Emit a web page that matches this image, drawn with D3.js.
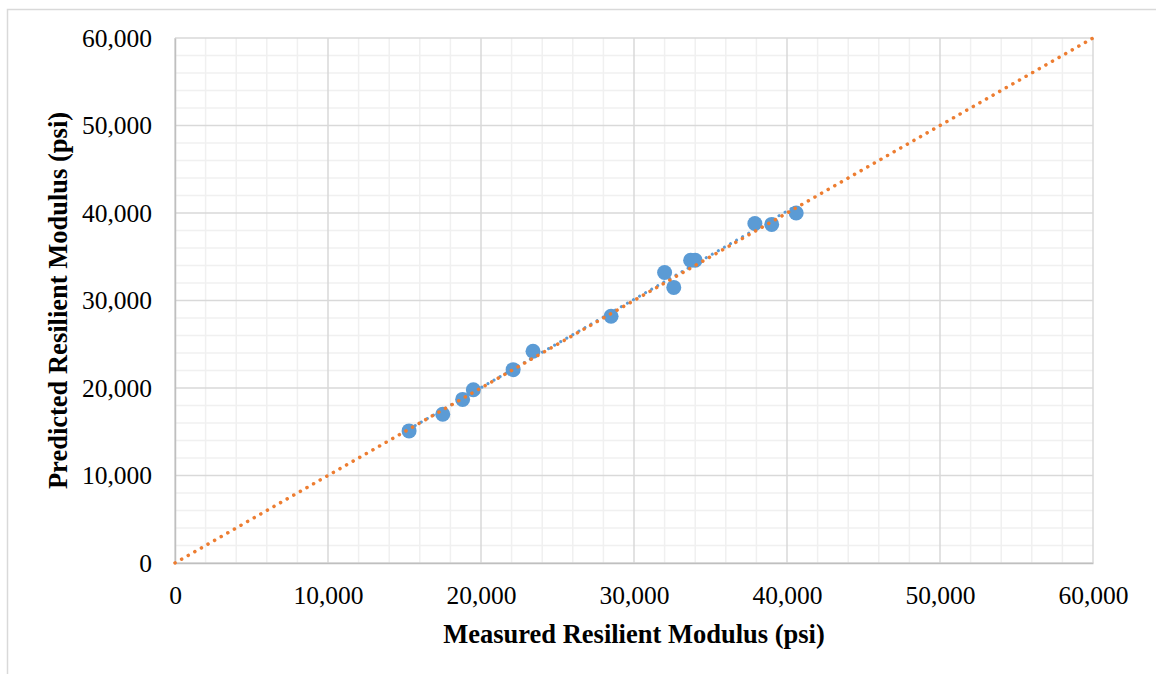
<!DOCTYPE html>
<html>
<head>
<meta charset="utf-8">
<script src="https://cdn.jsdelivr.net/npm/d3@7"></script>
<style>
  body { margin: 0; background: #fff; }
  svg text { font-family: "Liberation Serif", "Times New Roman", serif; fill: #000; }
</style>
</head>
<body>
<div id="chart"></div>
<script>
// measured vs predicted resilient modulus (psi)
var measured  = [15300, 17500, 18800, 19500, 22100, 23400, 28500, 32000, 32600, 33700, 34000, 37900, 39000, 40600];
var predicted = [15100, 17000, 18700, 19800, 22100, 24200, 28200, 33200, 31500, 34600, 34600, 38800, 38700, 40000];
var majorTicks = [0, 10000, 20000, 30000, 40000, 50000, 60000];
var lineOfEquality = [0, 60000];

var width = 1156, height = 674;
var margin = {left: 175, right: 63, top: 38, bottom: 111};

var svg = d3.select('#chart')
    .append('svg')
    .attr("width", width)
    .attr("height", height);

// outer chart border (runs off the right and bottom edges)
svg.append('rect')
    .attr("x", 7.5).attr("y", 9.5)
    .attr("width", width).attr("height", height)
    .attr("fill", "none")
    .attr("stroke", "#d9d9d9")
    .attr("stroke-width", 1.5);

var x = d3.scaleLinear().domain([0, 60000]).range([margin.left, width - margin.right]);
var y = d3.scaleLinear().domain([0, 60000]).range([height - margin.bottom, margin.top]);

// minor grid every 2,000
var minor = d3.range(0, 60001, 2000).filter(function (d) { return d % 10000 !== 0; });
var grid = svg.append('g');
grid.selectAll('line.mx').data(minor).enter().append('line')
    .attr("x1", function (d) { return x(d); }).attr("x2", function (d) { return x(d); })
    .attr("y1", y(0)).attr("y2", y(60000))
    .attr("stroke", "#f0f0f0").attr("stroke-width", 1.5);
grid.selectAll('line.my').data(minor).enter().append('line')
    .attr("y1", function (d) { return y(d); }).attr("y2", function (d) { return y(d); })
    .attr("x1", x(0)).attr("x2", x(60000))
    .attr("stroke", "#f0f0f0").attr("stroke-width", 1.5);

// major grid
grid.selectAll('line.Mx').data(majorTicks).enter().append('line')
    .attr("x1", function (d) { return x(d); }).attr("x2", function (d) { return x(d); })
    .attr("y1", y(0)).attr("y2", y(60000))
    .attr("stroke", "#d9d9d9").attr("stroke-width", 1.5);
grid.selectAll('line.My').data(majorTicks).enter().append('line')
    .attr("y1", function (d) { return y(d); }).attr("y2", function (d) { return y(d); })
    .attr("x1", x(0)).attr("x2", x(60000))
    .attr("stroke", "#d9d9d9").attr("stroke-width", 1.5);

// axes
var fmt = d3.format(",");
var xAxis = svg.append('g')
    .attr("transform", "translate(0," + y(0) + ")")
    .call(d3.axisBottom(x).tickValues(majorTicks).tickFormat(fmt).tickSize(0).tickPadding(23));
var yAxis = svg.append('g')
    .attr("transform", "translate(" + x(0) + ",0)")
    .call(d3.axisLeft(y).tickValues(majorTicks).tickFormat(fmt).tickSize(0).tickPadding(23));
[xAxis, yAxis].forEach(function (a) {
    a.select('.domain').attr("stroke", "#bfbfbf").attr("stroke-width", 1.5);
    a.selectAll('text').style("font-size", "25.5px");
});

// data markers
svg.selectAll('circle.pt')
    .data(measured)
    .enter()
    .append('circle')
        .attr("class", "pt")
        .attr("cx", function (d) { return x(d); })
        .attr("cy", function (d, i) { return y(predicted[i]); })
        .attr("r", 7.5)
        .attr("fill", "#5b9bd5");

// linear trendline through the points
var n = measured.length;
var mx = d3.mean(measured), my = d3.mean(predicted);
var sxy = 0, sxx = 0;
for (var i = 0; i < n; i++) {
    sxy += (measured[i] - mx) * (predicted[i] - my);
    sxx += (measured[i] - mx) * (measured[i] - mx);
}
var slope = sxy / sxx, icpt = my - slope * mx;
var xExt = d3.extent(measured);
svg.append('line')
    .attr("x1", x(xExt[0])).attr("y1", y(icpt + slope * xExt[0]))
    .attr("x2", x(xExt[1])).attr("y2", y(icpt + slope * xExt[1]))
    .attr("stroke", "#5b9bd5")
    .attr("stroke-width", 3)
    .attr("stroke-linecap", "round")
    .attr("stroke-dasharray", "0.1 6.9");

// line of equality
svg.append('line')
    .attr("x1", x(lineOfEquality[0])).attr("y1", y(lineOfEquality[0]))
    .attr("x2", x(lineOfEquality[1])).attr("y2", y(lineOfEquality[1]))
    .attr("stroke", "#ed7d31")
    .attr("stroke-width", 3.5)
    .attr("stroke-linecap", "round")
    .attr("stroke-dasharray", "0.1 7.5");

// axis titles
svg.append('text')
    .attr("x", (x(0) + x(60000)) / 2)
    .attr("y", 643)
    .attr("text-anchor", "middle")
    .style("font-size", "26.5px")
    .style("font-weight", "bold")
    .text("Measured Resilient Modulus (psi)");
svg.append('text')
    .attr("transform", "translate(67," + ((y(0) + y(60000)) / 2) + ") rotate(-90)")
    .attr("text-anchor", "middle")
    .style("font-size", "26.5px")
    .style("font-weight", "bold")
    .text("Predicted Resilient Modulus (psi)");
</script>
</body>
</html>
